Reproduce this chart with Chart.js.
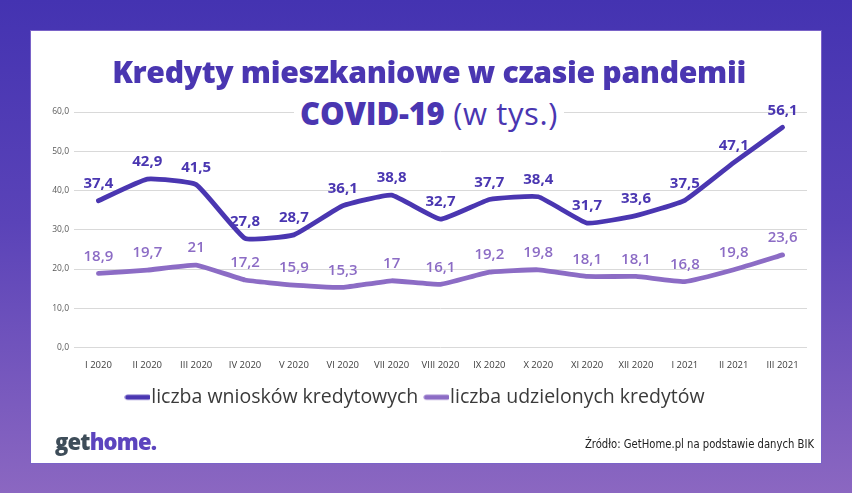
<!DOCTYPE html>
<html>
<head>
<meta charset="utf-8">
<title>Kredyty mieszkaniowe w czasie pandemii</title>
<script src="https://cdn.jsdelivr.net/npm/chart.js"></script>
<style>
    html, body { margin: 0; padding: 0; }
    body { width: 852px; height: 493px; overflow: hidden; position: relative;
           background: linear-gradient(180deg, #4433b1 0%, #5a43b8 45%, #8b67c1 100%); }
    #card { position: absolute; left: 31px; top: 31px; width: 790px; height: 432px; background: #fff;
            box-shadow: 0 0 0 1px #7a63c8; }
    #wrap { position: absolute; left: 0; top: 0; width: 790px; height: 432px; }
    .title { position: absolute; left: 0; width: 790px; text-align: center; color: #4a36b1;
             font-family: "Open Sans", sans-serif; white-space: nowrap; }
    #t1 { top: 20px; left: 3px; font-size: 30.2px; font-weight: 800; letter-spacing: -0.35px; }
    #t2 { top: 61px; left: 3px; font-size: 31px; }
    #t2 span.box { background: #fff; padding: 0 6px; }
    #t2 b { font-weight: 800; letter-spacing: -0.2px; }
    #t2 i { font-style: normal; font-weight: 400; letter-spacing: 0.6px; }
    #logo { position: absolute; left: 24px; top: 395px; font-family: "Open Sans", sans-serif;
            font-weight: 800; font-size: 22px; letter-spacing: -0.8px; color: #3e4d59; }
    #logo span { color: #5c44be; }
    #src { position: absolute; right: 7px; top: 405px; font-family: "Liberation Sans Narrow", "DejaVu Sans Condensed", sans-serif;
           font-size: 12.5px; color: #222; transform: scaleX(0.895); transform-origin: right center; }
</style>
</head>
<body>
<div id="card">
    <div id="wrap"><canvas id="chart"></canvas></div>
    <div class="title" id="t1">Kredyty mieszkaniowe w czasie pandemii</div>
    <div class="title" id="t2"><span class="box"><b>COVID-19</b><i> (w tys.)</i></span></div>
    <div id="logo">get<span>home.</span></div>
    <div id="src">Źródło: GetHome.pl na podstawie danych BIK</div>
</div>
<script>
var months = ["I 2020", "II 2020", "III 2020", "IV 2020", "V 2020", "VI 2020", "VII 2020", "VIII 2020",
              "IX 2020", "X 2020", "XI 2020", "XII 2020", "I 2021", "II 2021", "III 2021"];
var wnioski = [37.4, 42.9, 41.5, 27.8, 28.7, 36.1, 38.8, 32.7, 37.7, 38.4, 31.7, 33.6, 37.5, 47.1, 56.1];
var udzielone = [18.9, 19.7, 21, 17.2, 15.9, 15.3, 17, 16.1, 19.2, 19.8, 18.1, 18.1, 16.8, 19.8, 23.6];
var yTicks = [0, 10, 20, 30, 40, 50, 60];

var darkColor = '#4a36b1';
var lightColor = '#8c6cc5';

// legend marker: thick rounded line that sits right against the label text
function legendMarker(color) {
    var c = document.createElement('canvas');
    c.width = 26; c.height = 8;
    var g = c.getContext('2d');
    g.strokeStyle = color;
    g.lineWidth = 5;
    g.lineCap = 'round';
    g.beginPath();
    g.moveTo(3, 4);
    g.lineTo(24, 4);
    g.stroke();
    return c;
}

// draw value labels above each point (no datalabels plugin available)
var valueLabels = {
    id: 'valueLabels',
    afterDatasetsDraw: function (chart) {
        var ctx = chart.ctx;
        ctx.save();
        ctx.textAlign = 'center';
        ctx.textBaseline = 'middle';
        chart.data.datasets.forEach(function (ds, i) {
            var meta = chart.getDatasetMeta(i);
            ctx.fillStyle = ds.borderColor;
            ctx.font = (i === 0 ? '700' : '600') + ' 15px "Open Sans"';
            meta.data.forEach(function (pt, j) {
                var txt = String(ds.data[j]).replace('.', ',');
                ctx.fillText(txt, pt.x, pt.y - 17);
            });
        });
        ctx.restore();
    }
};

new Chart(document.getElementById('chart'), {
    type: 'line',
    data: {
        labels: months,
        datasets: [{
            label: 'liczba wniosków kredytowych',
            data: wnioski,
            borderColor: darkColor,
            backgroundColor: darkColor,
            borderWidth: 4.8,
            borderCapStyle: 'round',
            borderJoinStyle: 'round',
            pointRadius: 0,
            pointStyle: legendMarker(darkColor),
            tension: 0.12
        }, {
            label: 'liczba udzielonych kredytów',
            data: udzielone,
            borderColor: lightColor,
            backgroundColor: lightColor,
            borderWidth: 4.8,
            borderCapStyle: 'round',
            borderJoinStyle: 'round',
            pointRadius: 0,
            pointStyle: legendMarker(lightColor),
            tension: 0.12
        }]
    },
    options: {
        responsive: true,
        maintainAspectRatio: false,
        animation: false,
        layout: { padding: { top: 81, right: 14, bottom: 46, left: 0 } },
        scales: {
            x: {
                offset: true,
                grid: { display: false },
                border: { display: false },
                ticks: { color: '#404040', font: { family: 'Open Sans', size: 9.5 }, padding: 4, maxRotation: 0, autoSkip: false },
                afterFit: function (scale) { scale.height = 26; }
            },
            y: {
                min: 0,
                max: 60,
                afterBuildTicks: function (scale) { scale.ticks = yTicks.map(function (v) { return { value: v }; }); },
                grid: { color: '#d9d9d9', drawTicks: false },
                border: { display: false },
                ticks: {
                    color: '#595959',
                    font: { family: 'Open Sans', size: 8.5 },
                    padding: 5,
                    callback: function (v) { return v.toFixed(1).replace('.', ','); }
                },
                afterFit: function (scale) { scale.width = 43; }
            }
        },
        plugins: {
            title: { display: false },
            tooltip: { enabled: false },
            legend: {
                position: 'bottom',
                labels: {
                    usePointStyle: true,
                    pointStyleWidth: 8,
                    boxHeight: 8,
                    color: '#3a3a3a',
                    padding: 14,
                    font: { family: 'Open Sans', size: 19.5 }
                }
            }
        }
    },
    plugins: [valueLabels]
});
</script>
</body>
</html>
